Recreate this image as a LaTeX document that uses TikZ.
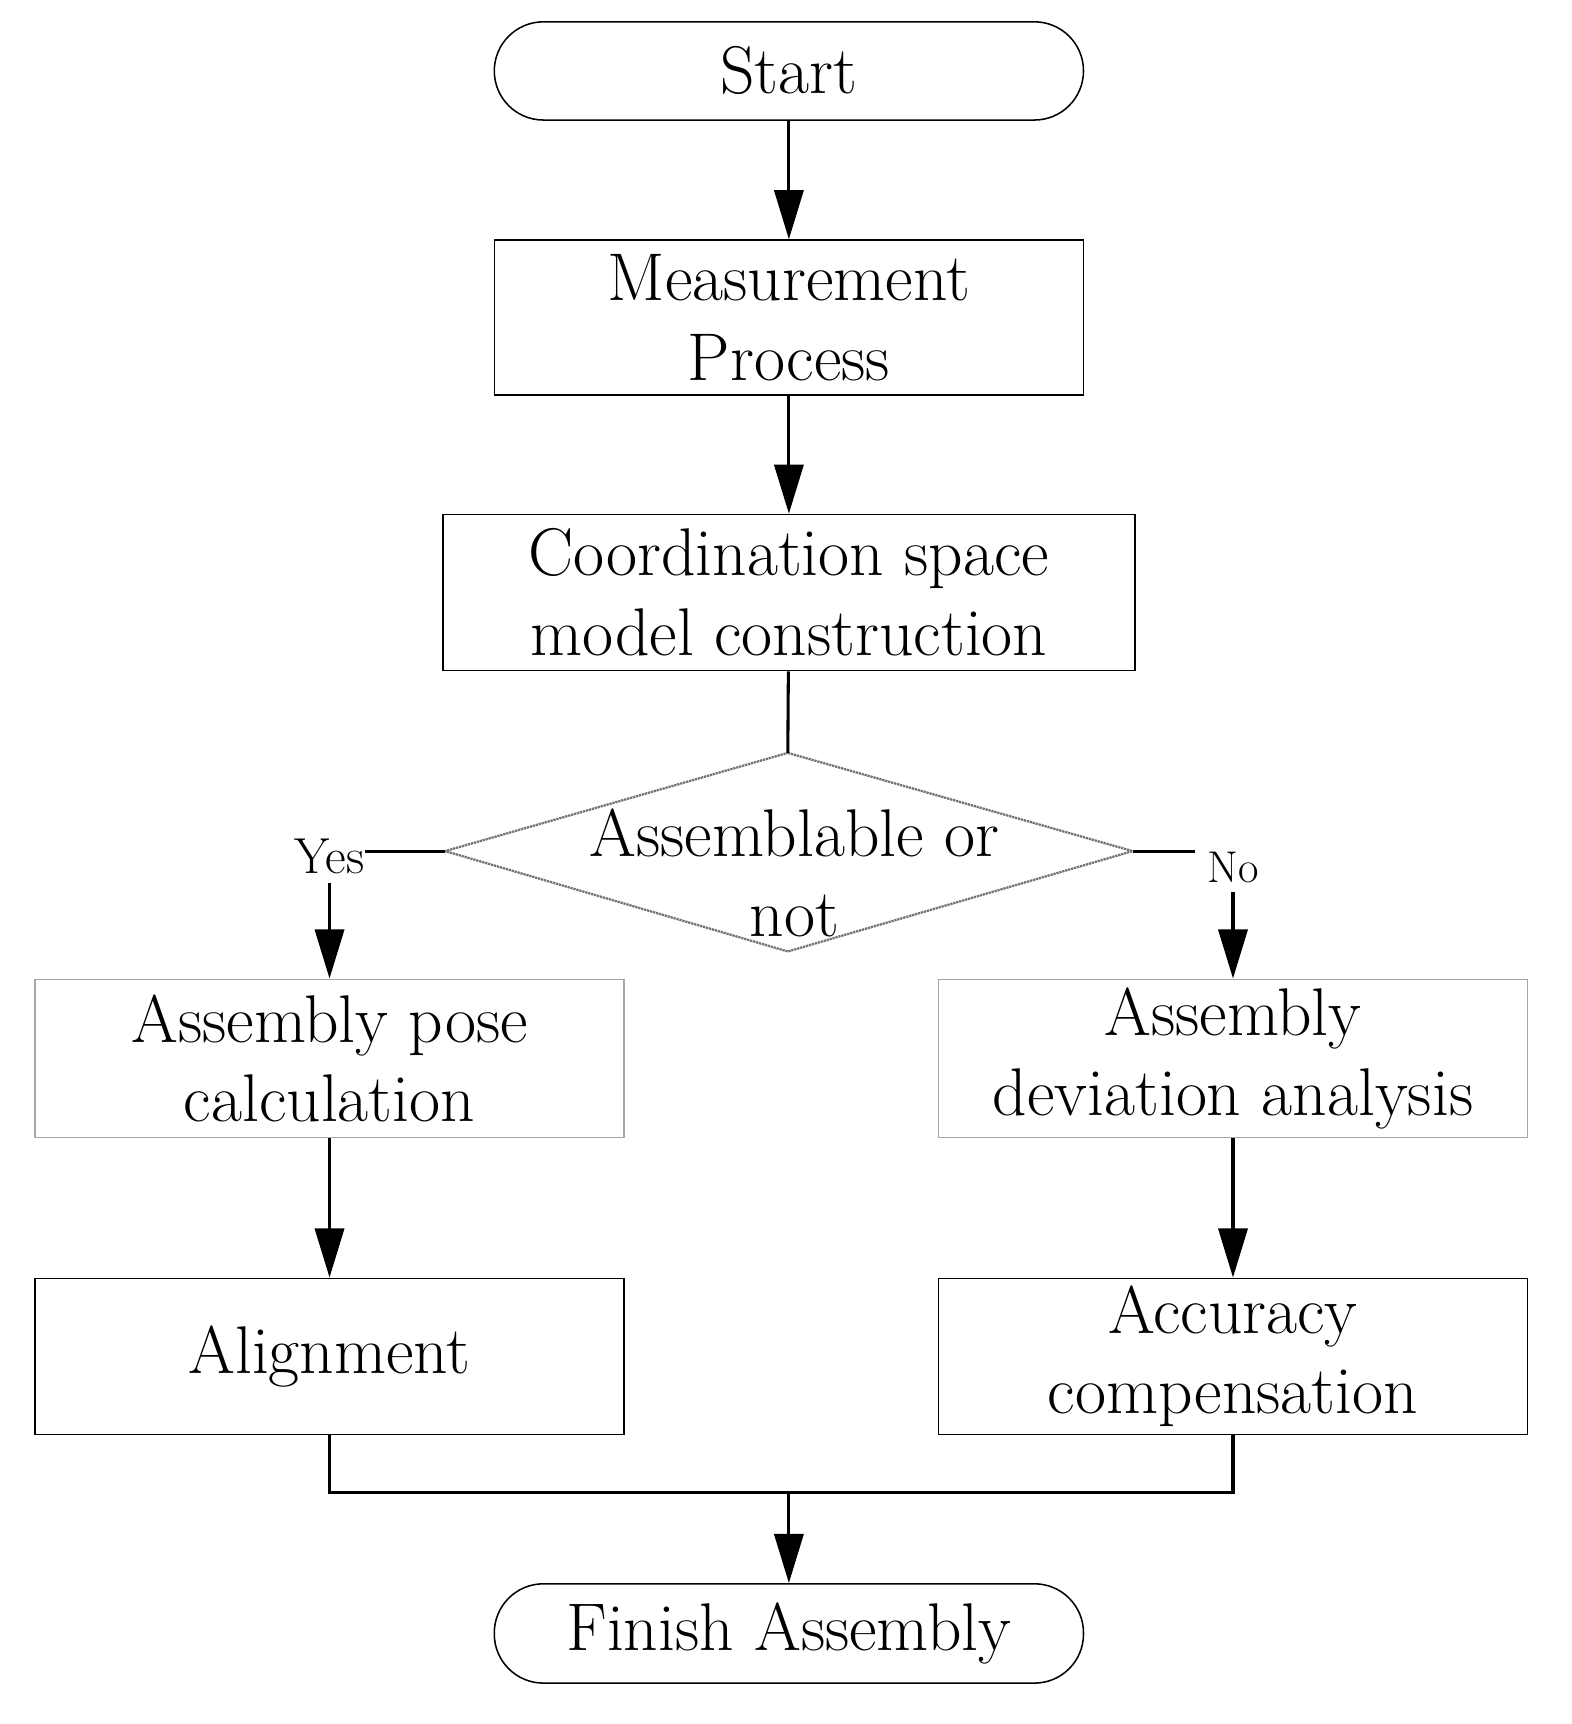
\documentclass[tikz,border=0pt]{standalone}
\usetikzlibrary{shapes.geometric,arrows.meta}
\begin{document}
\begin{tikzpicture}[x=0.05cm,y=-0.05cm,
  txt/.style={font=\fontsize{88}{104}\selectfont,align=center},
  box/.style={txt,draw,line width=2pt,inner sep=0pt},
  pale/.style={box,draw=black!35},
  term/.style={box,rounded corners=45*0.05cm},
  line/.style={line width=4pt},
  arr/.style={line,-{Triangle[length=64pt,width=38pt]}}]
\useasboundingbox (0,0) rectangle (1440,1580);
\node[term,minimum width=540*0.05cm,minimum height=90*0.05cm] (start) at (723,65) {Start};
\node[box,minimum width=540*0.05cm,minimum height=142*0.05cm] (meas) at (723,291) {Measurement\\Process};
\node[box,minimum width=634*0.05cm,minimum height=143*0.05cm] (coord) at (723,543) {Coordination space\\model construction};
\draw[black!55,line width=3pt,densely dotted] (722,690) coordinate (dt) -- (1038,780) coordinate (dr)
  -- (722,872) -- (408,780) coordinate (dl) -- cycle;
\node[txt] (q) at (728,800) {Assemblable or\\not};
\node[pale,minimum width=540*0.05cm,minimum height=145*0.05cm] (pose) at (302,970) {Assembly pose\\calculation};
\node[pale,minimum width=540*0.05cm,minimum height=145*0.05cm] (dev) at (1130,970) {Assembly\\deviation analysis};
\node[box,minimum width=540*0.05cm,minimum height=143*0.05cm] (align) at (302,1243) {Alignment};
\node[box,minimum width=540*0.05cm,minimum height=143*0.05cm] (acc) at (1130,1243) {Accuracy\\compensation};
\node[term,minimum width=540*0.05cm,minimum height=91*0.05cm] (fin) at (723,1497) {Finish Assembly};
\node[txt,font=\fontsize{66}{70}\selectfont,inner sep=0pt] (yes) at (302,785) {Yes};
\node[txt,font=\fontsize{58}{60}\selectfont,inner sep=0pt] (no) at (1130,795) {No};
\draw[arr] (start) -- (meas);
\draw[arr] (meas) -- (coord);
\draw[line] (coord) -- (dt);
\draw[line] (dl) -- (yes.east |- dl);
\draw[line] (dr) -- (1095,780);
\draw[arr] (yes.south) ++(0,8) -- (pose.north);
\draw[arr] (no.south) ++(0,8) -- (dev.north);
\draw[arr] (pose) -- (align);
\draw[arr] (dev) -- (acc);
\draw[line] (align.south) |- (723,1368) coordinate (j) -| (acc.south);
\draw[arr] (j) -- (fin);
\end{tikzpicture}
\end{document}
